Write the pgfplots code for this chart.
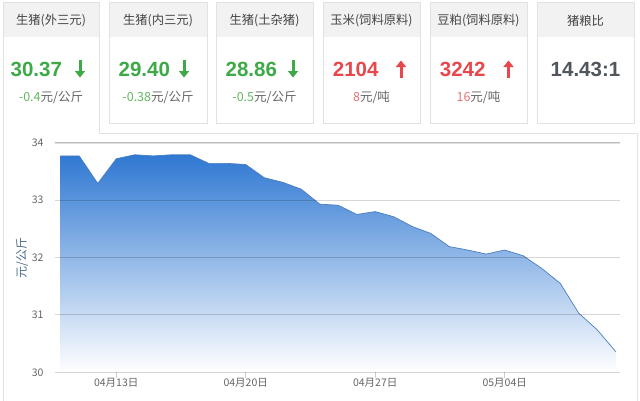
\documentclass[border=0pt]{standalone}
\usepackage{fontspec}
\setmainfont{Noto Sans CJK SC}
\newfontfamily\numfont{Liberation Sans}
\usepackage{pgfplots}
\usepackage{pgfplotstable}
\pgfplotsset{compat=1.18}
\usetikzlibrary{arrows.meta}
\definecolor{hdrbg}{HTML}{F2F2F2}
\definecolor{bord}{HTML}{E2E2E2}
\definecolor{ttl}{HTML}{444444}
\definecolor{gval}{HTML}{3DAA47}
\definecolor{gchg}{HTML}{62B862}
\definecolor{rval}{HTML}{E8474C}
\definecolor{rchg}{HTML}{E87373}
\definecolor{chg}{HTML}{666666}
\definecolor{dval}{HTML}{50565C}
\definecolor{filltop}{HTML}{2F78D2}
\definecolor{linec}{HTML}{4A7EC0}
\definecolor{ylab}{HTML}{4F6F8F}
\definecolor{tickc}{HTML}{666666}

\pgfplotstableread{
x y
0 33.77
1 33.77
2 33.29
3 33.72
4 33.79
5 33.77
6 33.79
7 33.79
8 33.64
9 33.64
10 33.62
11 33.39
12 33.31
13 33.19
14 32.93
15 32.91
16 32.75
17 32.80
18 32.71
19 32.54
20 32.42
21 32.19
22 32.13
23 32.06
24 32.13
25 32.03
26 31.81
27 31.55
28 31.03
29 30.74
30 30.36
}\pricedata

\begin{document}
\begin{tikzpicture}
\begin{scope}[x=1pt,y=1pt]
\useasboundingbox (0,0) rectangle (640,400);
\fill[white] (0,0) rectangle (640,400);
% header boxes 2-6
\foreach \l/\r in {109/207,216/313,323/420,430/527,537/634}{
  \fill[hdrbg] (\l,363) rectangle (\r,398);
  \draw[bord, line width=0.8pt] (\l,277) rectangle (\r,398);
}
% box 1 + panel
\fill[hdrbg] (3,363) rectangle (99,398);
\draw[bord, line width=0.8pt] (3,-2) -- (3,398) -- (99,398) -- (99,267) -- (637,267) -- (637,-2);
% titles
\foreach \c/\t in {51/{生猪(外三元)},158/{生猪(内三元)},264.5/{生猪(土杂猪)},371.5/{玉米(饲料原料)},478.5/{豆粕(饲料原料)},585.5/{猪粮比}}{
  \node[text=ttl, font=\fontsize{12.3}{14}\selectfont] at (\c,379) {\t};
}
% values
\node[anchor=east, text=gval, font=\fontsize{20.5}{22}\numfont\bfseries] at (65.5,331) {30.37};
\node[anchor=east, text=gval, font=\fontsize{20.5}{22}\numfont\bfseries] at (173.5,331) {29.40};
\node[anchor=east, text=gval, font=\fontsize{20.5}{22}\numfont\bfseries] at (280.5,331) {28.86};
\node[anchor=east, text=rval, font=\fontsize{20.5}{22}\numfont\bfseries] at (382,331) {2104};
\node[anchor=east, text=rval, font=\fontsize{20.5}{22}\numfont\bfseries] at (489,331) {3242};
\node[text=dval, font=\fontsize{20.5}{22}\numfont\bfseries] at (585.5,331) {14.43:1};
% arrows
\foreach \ax in {80,184,293}{
  \draw[gval, line width=3pt, -{Triangle[length=6.5pt,width=10pt]}] (\ax,339.5) -- (\ax,322.5);
}
\foreach \ax in {401,508.5}{
  \draw[rval, line width=3pt, -{Triangle[length=6.5pt,width=10pt]}] (\ax,322.5) -- (\ax,339.5);
}
% changes
\node[font=\fontsize{12.5}{14}\selectfont] at (51,303) {\textcolor{gchg}{-0.4}\textcolor{chg}{元/公斤}};
\node[font=\fontsize{12.5}{14}\selectfont] at (158,303) {\textcolor{gchg}{-0.38}\textcolor{chg}{元/公斤}};
\node[font=\fontsize{12.5}{14}\selectfont] at (264.5,303) {\textcolor{gchg}{-0.5}\textcolor{chg}{元/公斤}};
\node[font=\fontsize{12.5}{14}\selectfont] at (371.5,303) {\textcolor{rchg}{8}\textcolor{chg}{元/吨}};
\node[font=\fontsize{12.5}{14}\selectfont] at (478.5,303) {\textcolor{rchg}{16}\textcolor{chg}{元/吨}};
% y label
\node[rotate=90, text=ylab, font=\fontsize{12}{14}\selectfont] at (22,142) {元/公斤};
\end{scope}

\begin{axis}[
  at={(55pt,27.7pt)}, anchor=south west,
  scale only axis, width=565pt, height=229.6pt,
  xmin=-0.31, xmax=30.23, ymin=30, ymax=34,
  ytick={30,31,32,33,34},
  xtick={3,10,17,24},
  xticklabels={04月13日,04月20日,04月27日,05月04日},
  axis line style={draw=none},
  ymajorgrids,
  grid style={black, opacity=0.16, line width=0.9pt},
  axis on top,
  xtick pos=bottom, ytick pos=left,
  tick align=outside,
  major tick length=6pt,
  xtick style={draw=black, opacity=0.2, line width=0.6pt},
  ytick style={draw=none},
  /pgf/number format/assume math mode=true,
  tick label style={text=tickc, font=\fontsize{10.5}{12}\selectfont},
  yticklabel style={xshift=-2pt},
  xticklabel style={yshift=4pt},
]
\addplot[draw=none, top color=filltop, bottom color=white] table[x=x,y=y] {\pricedata} -- (axis cs:30,30) -- (axis cs:0,30) -- cycle;
\addplot[draw=linec, line width=0.7pt, mark=none] table[x=x,y=y] {\pricedata};
\draw[black, opacity=0.12, line width=2pt] (axis cs:-0.31,34) -- (axis cs:30.23,34);
\end{axis}
\end{tikzpicture}
\end{document}
